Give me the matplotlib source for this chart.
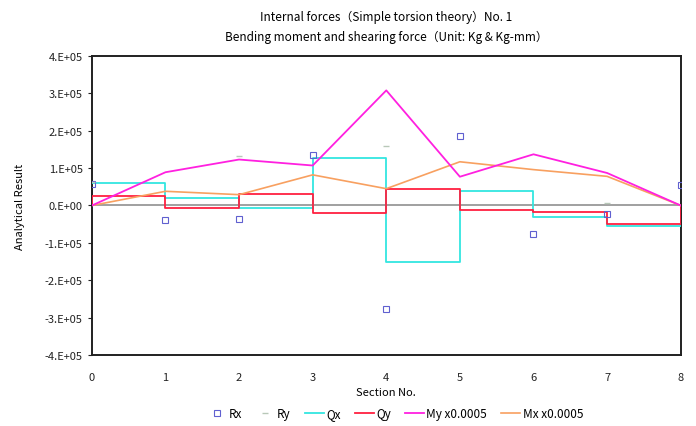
import numpy as np
import matplotlib
matplotlib.use('Agg')
import matplotlib.pyplot as plt

plt.rcParams['font.family'] = ['Noto Sans CJK JP', 'DejaVu Sans']

# section numbers
sections = [0, 1, 2, 3, 4, 5, 6, 7, 8]

# reactions (markers only)
rx = [0.58e5, -0.40e5, -0.36e5, 1.36e5, -2.78e5, 1.85e5, -0.77e5, -0.22e5, 0.54e5]
ry = [0.62e5, np.nan, 1.33e5, np.nan, 1.60e5, np.nan, np.nan, 0.06e5, np.nan]

# shearing forces, constant over each span (0-1, 1-2, ... 7-8)
qx = [0.60e5, 0.21e5, -0.08e5, 1.28e5, -1.50e5, 0.38e5, -0.32e5, -0.55e5]
qy = [0.25e5, -0.06e5, 0.32e5, -0.21e5, 0.45e5, -0.13e5, -0.17e5, -0.49e5]

# bending moments x 0.0005
my = [0, 0.89e5, 1.23e5, 1.07e5, 3.08e5, 0.77e5, 1.37e5, 0.87e5, 0]
mx = [0, 0.38e5, 0.29e5, 0.82e5, 0.45e5, 1.17e5, 0.96e5, 0.78e5, 0]

ytick_vals = [4e5, 3e5, 2e5, 1e5, 0, -1e5, -2e5, -3e5, -4e5]
ytick_labels = ['4.E+05', '3.E+05', '2.E+05', '1.E+05', '0.E+00',
                '-1.E+05', '-2.E+05', '-3.E+05', '-4.E+05']


def step_xy(vals, close_end=False):
    # stair line: vertical jump at each section, flat across each span
    xs, ys = [0], [0]
    for i, v in enumerate(vals):
        xs += [sections[i], sections[i + 1]]
        ys += [v, v]
    if close_end:
        xs.append(sections[-1])
        ys.append(0)
    return xs, ys


fig = plt.figure(figsize=(6.96, 4.27), dpi=100)
ax = fig.add_axes([0.132, 0.1663, 0.846, 0.7002])

ax.axhline(0, color='#909090', lw=1.2, zorder=1)

qx_x, qx_y = step_xy(qx)
qx_x, qx_y = qx_x[1:], qx_y[1:]
qy_x, qy_y = step_xy(qy, close_end=True)

ax.plot(sections, rx, ls='none', marker='s', ms=3.8, mfc='none', mec='#6060d0', mew=0.8,
        label='Rx', zorder=5)
ax.plot(sections, ry, ls='none', marker='_', ms=4, mec='#b8c8b8', mew=1.0,
        label='Ry', zorder=5)
ax.plot(qx_x, qx_y, color='#33e6e0', lw=1.3, label='Qx', zorder=3)
ax.plot(qy_x, qy_y, color='#ff2040', lw=1.3, label='Qy', zorder=3)
ax.plot(sections, my, color='#ff20e0', lw=1.3, label='My x0.0005', zorder=4)
ax.plot(sections, mx, color='#f8a060', lw=1.2, label='Mx x0.0005', zorder=3)

ax.set_xlim(0, 8)
ax.set_ylim(-4e5, 4e5)
ax.set_xticks(sections)
ax.set_yticks(ytick_vals)
ax.set_yticklabels(ytick_labels)
ax.tick_params(axis='both', labelsize=8, colors='#222222', length=3, width=0.8)
ax.tick_params(axis='x', length=0, pad=12)
for s in ax.spines.values():
    s.set_color('#202020')
    s.set_linewidth(1.4)

ax.set_xlabel('Section No.', fontsize=8, labelpad=4)
ax.set_ylabel('Analytical Result', fontsize=8, labelpad=14)

fig.text(0.555, 0.958, 'Internal forces（Simple torsion theory）No. 1',
         ha='center', va='center', fontsize=8.5)
fig.text(0.555, 0.912, 'Bending moment and shearing force（Unit: Kg & Kg-mm）',
         ha='center', va='center', fontsize=8.5)

ax.legend(loc='upper center', bbox_to_anchor=(0.515, -0.14), ncol=6, frameon=False,
          fontsize=8.5, handlelength=1.6, handletextpad=0.2, columnspacing=1.2)

fig.savefig('out.png', dpi=100)
